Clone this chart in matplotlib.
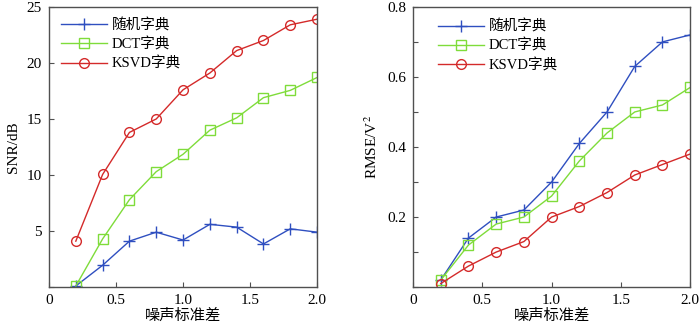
import matplotlib.pyplot as plt
from matplotlib.ticker import MultipleLocator, FuncFormatter

plt.rcParams['font.family'] = ['Liberation Serif', 'Noto Sans CJK SC']
plt.rcParams['mathtext.fontset'] = 'stix'

noise = [0.2, 0.4, 0.6, 0.8, 1.0, 1.2, 1.4, 1.6, 1.8, 2.0]
labels = ['随机字典', 'DCT字典', 'KSVD字典']

snr_random = [0.1, 1.95, 4.1, 4.9, 4.2, 5.6, 5.35, 3.85, 5.2, 4.9]
snr_dct = [0.1, 4.3, 7.8, 10.3, 11.85, 14.0, 15.1, 16.9, 17.55, 18.7]
snr_ksvd = [4.1, 10.05, 13.8, 15.0, 17.6, 19.1, 21.1, 22.0, 23.4, 23.9]

rmse_random = [0.02, 0.14, 0.20, 0.22, 0.30, 0.41, 0.50, 0.63, 0.70, 0.72]
rmse_dct = [0.02, 0.12, 0.18, 0.20, 0.26, 0.36, 0.44, 0.50, 0.52, 0.57]
rmse_ksvd = [0.01, 0.06, 0.10, 0.13, 0.20, 0.23, 0.27, 0.32, 0.35, 0.38]

styles = [
    {'color': '#2f4fc0', 'marker': '+', 'markersize': 8, 'mew': 1.0},
    {'color': '#7fdc3a', 'marker': 's', 'markersize': 6.5, 'mfc': 'none', 'mew': 1.0},
    {'color': '#d42a2a', 'marker': 'o', 'markersize': 7, 'mfc': 'none', 'mew': 1.0},
]

fig = plt.figure(figsize=(7, 3.27), dpi=100)
ax1 = fig.add_axes([0.070, 0.122, 0.383, 0.857])
ax2 = fig.add_axes([0.590, 0.122, 0.396, 0.857])


def fmt_x(v, pos):
    return '0' if abs(v) < 1e-9 else f'{v:.1f}'


for ax, series, ylab, ymax, ystep, ylab_fmt, anchor in [
    (ax1, [snr_random, snr_dct, snr_ksvd], 'SNR/dB', 25, 5,
     lambda v, p: '' if abs(v) < 1e-9 else f'{v:.0f}', (0.023, 0.98)),
    (ax2, [rmse_random, rmse_dct, rmse_ksvd], 'RMSE/V$^2$', 0.8, 0.1,
     lambda v, p: '' if abs(v) < 1e-9 or round(v * 10) % 2 else f'{v:.1f}',
     (0.069, 0.975)),
]:
    for vals, lab, st in zip(series, labels, styles):
        ax.plot(noise, vals, lw=1.0, label=lab, **st)
    ax.set_xlim(0, 2.0)
    ax.set_ylim(0, ymax)
    ax.xaxis.set_major_locator(MultipleLocator(0.5))
    ax.yaxis.set_major_locator(MultipleLocator(ystep))
    ax.xaxis.set_major_formatter(FuncFormatter(fmt_x))
    ax.yaxis.set_major_formatter(FuncFormatter(ylab_fmt))
    ax.tick_params(direction='in', length=3.5, labelsize=11, pad=5,
                   color='#505050')
    ax.set_xlabel('噪声标准差', fontsize=11, labelpad=1)
    ax.set_ylabel(ylab, fontsize=11, labelpad=5)
    for sp in ax.spines.values():
        sp.set_color('#505050')
        sp.set_linewidth(1.0)
    ax.legend(loc='upper left', frameon=False, fontsize=10.5, handlelength=3.15,
              numpoints=1, borderaxespad=0, labelspacing=0.35,
              handletextpad=0.35, bbox_to_anchor=anchor)

fig.savefig('out.png', dpi=100)
